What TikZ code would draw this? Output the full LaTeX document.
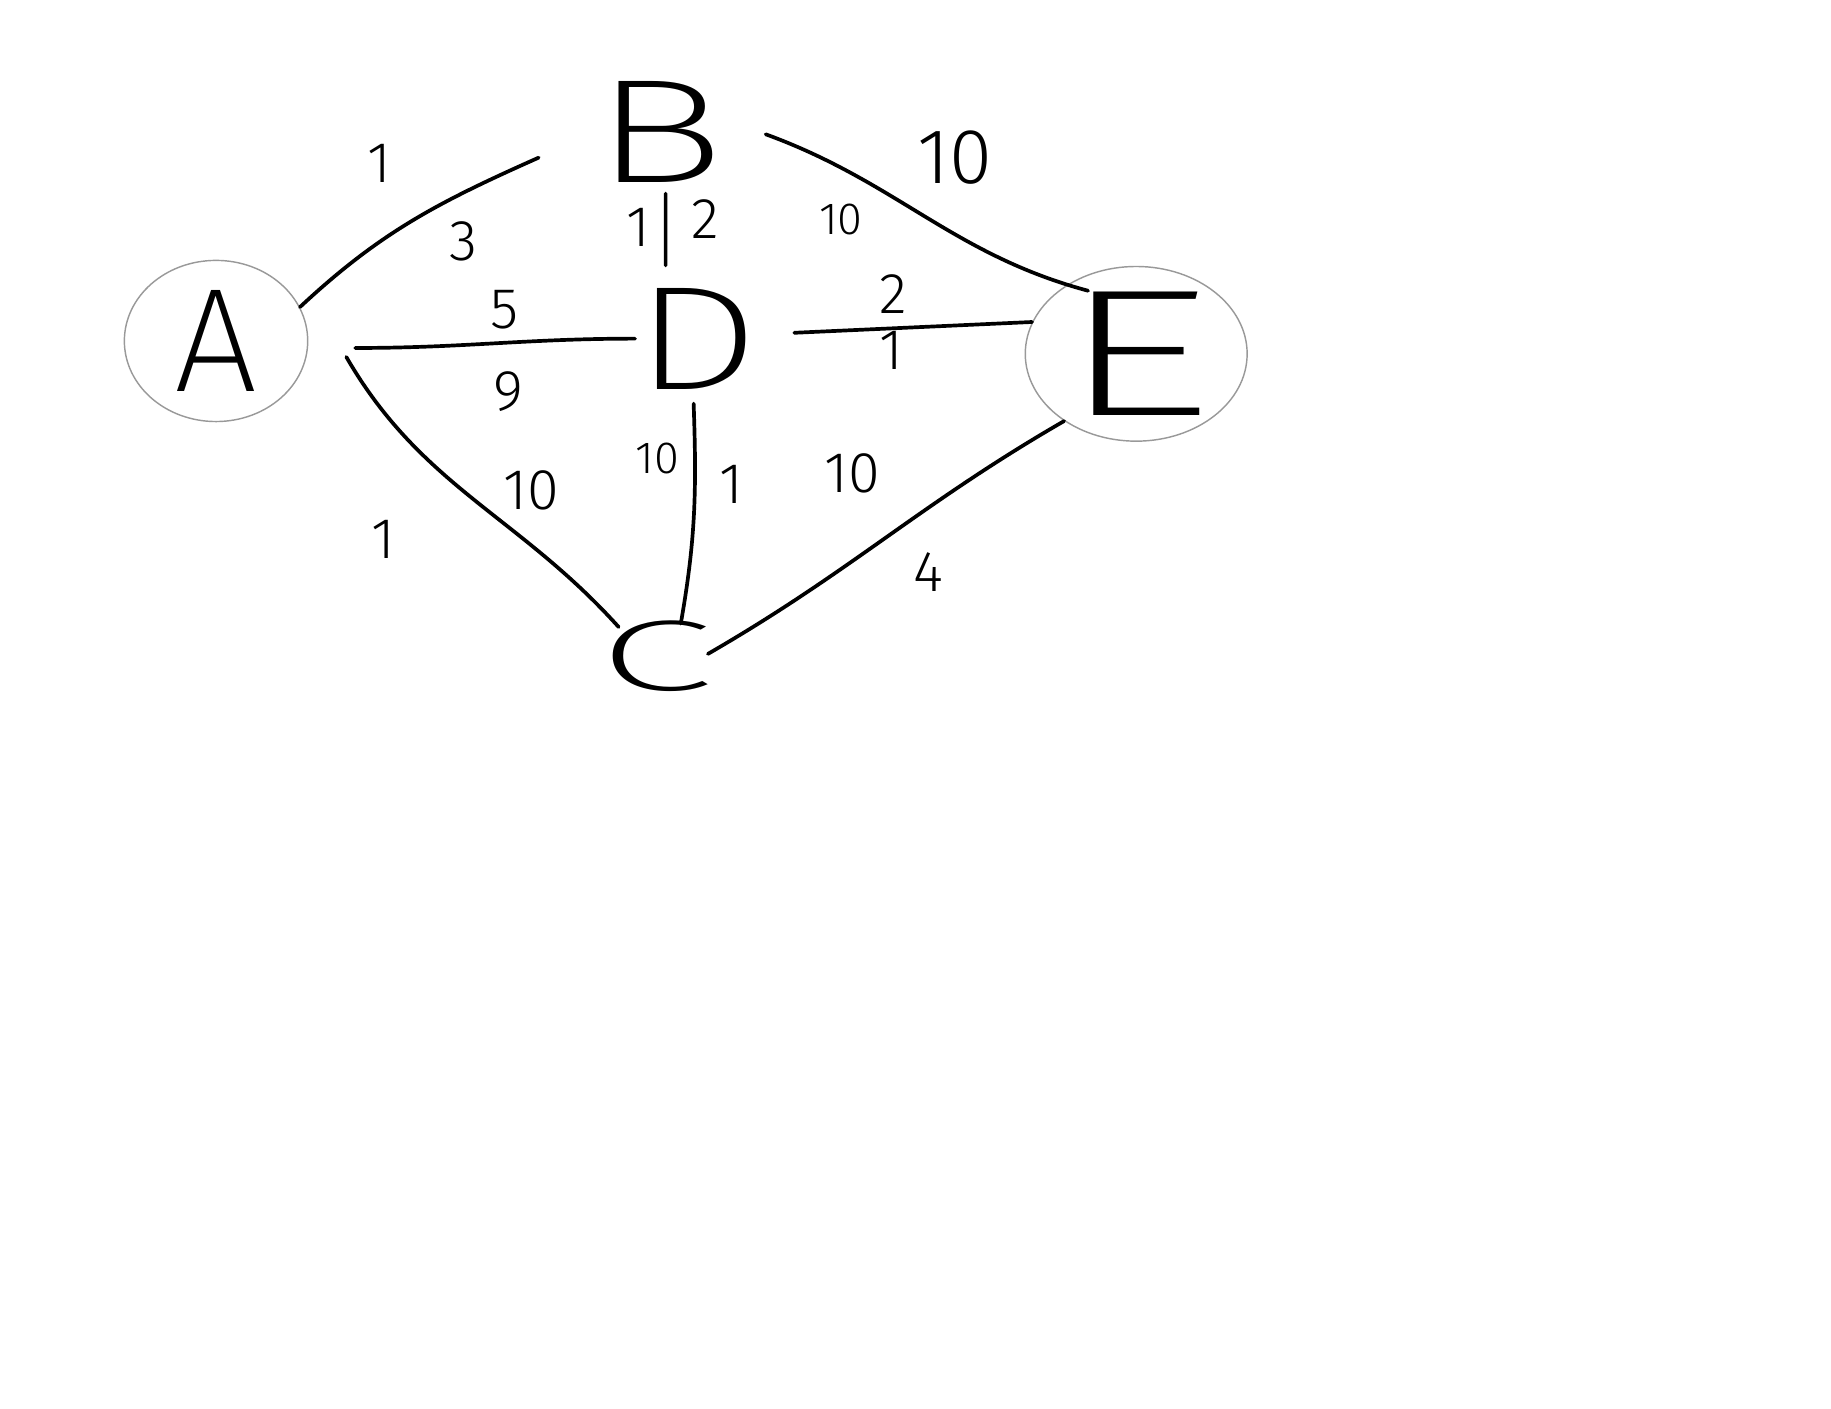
\documentclass[tikz,border=0pt]{standalone}
\usepackage{fontspec}
\usepackage{graphicx}
\newfontfamily\handletter{Fira Sans ExtraLight}
\newfontfamily\handdigit{Fira Sans Light}
\usetikzlibrary{shapes.geometric}

\begin{document}
\begin{tikzpicture}[
    vertex/.style={inner sep=0pt, font=\handletter\fontsize{36}{40}\selectfont},
    ring/.style={vertex, ellipse, draw=gray!80, line width=0.35pt},
    edge/.style={line width=0.9pt, line cap=round},
    wt/.style={inner sep=0pt, font=\handdigit\fontsize{14}{16}\selectfont},
    wtsmall/.style={wt, font=\handdigit\fontsize{11}{13}\selectfont},
    wtbig/.style={wt, font=\handdigit\fontsize{19}{21}\selectfont}
]
    \useasboundingbox (0,0) rectangle (15.68,12.06);

    % Vertices
    \node[ring, minimum width=1.57cm, minimum height=1.38cm] (A) at (1.85,9.14) {A};
    \node[vertex, minimum width=0.9cm, minimum height=0.92cm] (B) at (5.65,10.93) {\makebox[0pt]{\scalebox{1.5}[1]{B}}};
    \node[vertex, minimum width=0.85cm, minimum height=0.9cm] (D) at (5.97,9.16) {\makebox[0pt]{\scalebox{1.35}[1]{D}}};
    \node[ring, minimum width=1.9cm, minimum height=1.34cm,
          font=\handletter\fontsize{44}{48}\selectfont] (E) at (9.73,9.03) {\makebox[0pt]{\scalebox{1.7}[1]{E}}};
    \node[vertex, minimum width=0.97cm, minimum height=0.6cm] (C) at (5.62,6.44) {\makebox[0pt]{\scalebox{1.42}[0.68]{C}}};

    % Edges
    \draw[edge] (A.22) to[out=43,in=204] ([shift={(-0.58,-0.22)}]B.west);
    \draw[edge] ([shift={(0.40,-0.06)}]A.east) to[out=0,in=180] ([shift={(-0.10,0)}]D.west);
    \draw[edge] ([shift={(0.34,0)}]A.-10) to[out=-60,in=132] ([shift={(0.17,-0.06)}]C.north west);
    \draw[edge] ([shift={(0.05,-0.06)}]B.south) -- ([shift={(-0.27,0.17)}]D.north);
    \draw[edge] ([shift={(0.45,-0.02)}]B.east) to[out=-20,in=165] ([shift={(0.05,-0.12)}]E.125);
    \draw[edge] ([shift={(0.40,0.05)}]D.east) -- (E.163);
    \draw[edge] ([shift={(-0.03,-0.10)}]D.south) to[out=-88,in=80] ([shift={(0.21,-0.03)}]C.north);
    \draw[edge] ([shift={(-0.05,0.02)}]C.east) to[out=30,in=210] (E.223);

    % Weights, upper side
    \node[wt] (wAB1) at (3.25,10.66) {1};
    \node[wt] (wAD5) at (4.32,9.41) {5};
    \node[wt] (wBD1) at (5.47,10.11) {1};
    \node[wtbig] (wBE10) at (8.18,10.71) {10};
    \node[wt] (wDE2) at (7.65,9.54) {2};
    \node[wt] (wCE10) at (7.30,8.01) {10};
    \node[wt] (wAC10) at (4.55,7.86) {10};
    \node[wt] (wDC1) at (6.26,7.91) {1};

    % Weights, lower side
    \node[wt] (wAB3) at (3.97,9.99) {3};
    \node[wt] (wAD9) at (4.35,8.71) {9};
    \node[wt] (wBD2) at (6.04,10.18) {2};
    \node[wtsmall] (wEB10) at (7.20,10.18) {10};
    \node[wt] (wED1) at (7.63,9.06) {1};
    \node[wtsmall] (wCD10) at (5.63,8.13) {10};
    \node[wt] (wEC4) at (7.95,7.16) {4};
    \node[wt] (wCA1) at (3.28,7.44) {1};
\end{tikzpicture}
\end{document}
